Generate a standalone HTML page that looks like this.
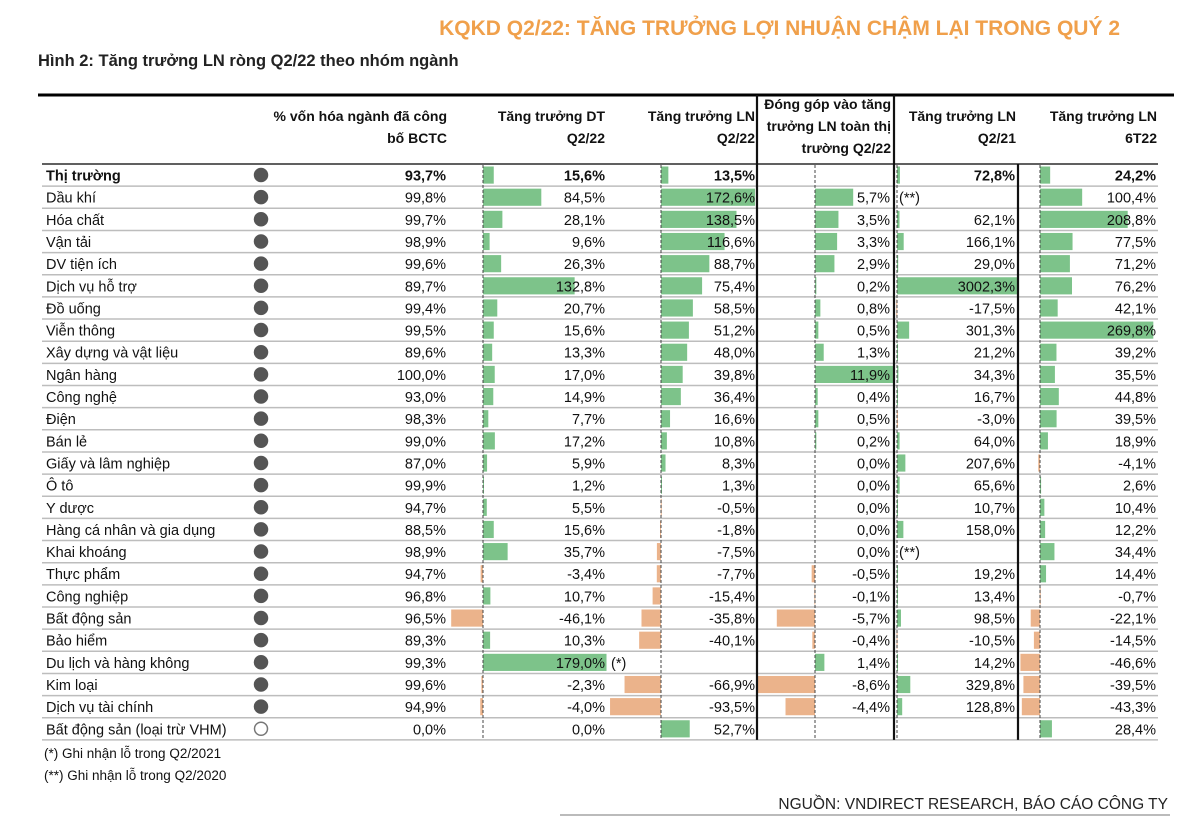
<!DOCTYPE html>
<html><head><meta charset="utf-8">
<style>
body{margin:0;background:#fff;width:1200px;height:829px;overflow:hidden;font-family:"Liberation Sans",Arial,sans-serif;}
svg text{font-family:"Liberation Sans",Arial,sans-serif;}
</style></head>
<body>
<svg id="chart" width="1200" height="829" xmlns="http://www.w3.org/2000/svg">
<text x="1120" y="35" text-anchor="end" font-size="21" font-weight="bold" fill="#f0a04b">KQKD Q2/22:  TĂNG TRƯỞNG LỢI NHUẬN CHẬM LẠI TRONG QUÝ 2</text>
<text x="38" y="66" font-size="16.5" font-weight="bold" fill="#222">Hình 2: Tăng trưởng LN ròng Q2/22 theo nhóm ngành</text>
<line x1="38" y1="95" x2="1174" y2="95" stroke="#000" stroke-width="3"/>
<line x1="42" y1="164" x2="1158" y2="164" stroke="#000" stroke-width="1.2"/>
<g id="hdr" font-size="14" font-weight="bold" fill="#111" text-anchor="end">
<text x="447" y="121">% vốn hóa ngành đã công</text>
<text x="447" y="143">bố BCTC</text>
<text x="605" y="121">Tăng trưởng DT</text>
<text x="605" y="143">Q2/22</text>
<text x="755" y="121">Tăng trưởng LN</text>
<text x="755" y="143">Q2/22</text>
<text x="891" y="109">Đóng góp vào tăng</text>
<text x="891" y="131">trưởng LN toàn thị</text>
<text x="891" y="153">trường Q2/22</text>
<text x="1016" y="121">Tăng trưởng LN</text>
<text x="1016" y="143">Q2/21</text>
<text x="1157" y="121">Tăng trưởng LN</text>
<text x="1157" y="143">6T22</text>
</g>
<g id="body"></g>
<text x="44" y="758" font-size="13.5" fill="#111">(*) Ghi nhận lỗ trong Q2/2021</text>
<text x="44" y="780" font-size="13.5" fill="#111">(**) Ghi nhận lỗ trong Q2/2020</text>
<text x="1168" y="809" text-anchor="end" font-size="15.5" fill="#222">NGUỒN: VNDIRECT RESEARCH, BÁO CÁO CÔNG TY</text>
<line x1="560" y1="815" x2="1170" y2="815" stroke="#777" stroke-width="1"/>
</svg>
<script>
const sectors=["Thị trường","Dầu khí","Hóa chất","Vận tải","DV tiện ích","Dịch vụ hỗ trợ","Đồ uống","Viễn thông","Xây dựng và vật liệu","Ngân hàng","Công nghệ","Điện","Bán lẻ","Giấy và lâm nghiệp","Ô tô","Y dược","Hàng cá nhân và gia dụng","Khai khoáng","Thực phẩm","Công nghiệp","Bất động sản","Bảo hiểm","Du lịch và hàng không","Kim loại","Dịch vụ tài chính","Bất động sản (loại trừ VHM)"];
const capPct=[93.7,99.8,99.7,98.9,99.6,89.7,99.4,99.5,89.6,100.0,93.0,98.3,99.0,87.0,99.9,94.7,88.5,98.9,94.7,96.8,96.5,89.3,99.3,99.6,94.9,0.0];
const revQ222=[15.6,84.5,28.1,9.6,26.3,132.8,20.7,15.6,13.3,17.0,14.9,7.7,17.2,5.9,1.2,5.5,15.6,35.7,-3.4,10.7,-46.1,10.3,179.0,-2.3,-4.0,0.0];
const profQ222=[13.5,172.6,138.5,116.6,88.7,75.4,58.5,51.2,48.0,39.8,36.4,16.6,10.8,8.3,1.3,-0.5,-1.8,-7.5,-7.7,-15.4,-35.8,-40.1,null,-66.9,-93.5,52.7];
const contrib=[null,5.7,3.5,3.3,2.9,0.2,0.8,0.5,1.3,11.9,0.4,0.5,0.2,0.0,0.0,0.0,0.0,0.0,-0.5,-0.1,-5.7,-0.4,1.4,-8.6,-4.4,null];
const profQ221=[72.8,null,62.1,166.1,29.0,3002.3,-17.5,301.3,21.2,34.3,16.7,-3.0,64.0,207.6,65.6,10.7,158.0,null,19.2,13.4,98.5,-10.5,14.2,329.8,128.8,null];
const prof6T22=[24.2,100.4,208.8,77.5,71.2,76.2,42.1,269.8,39.2,35.5,44.8,39.5,18.9,-4.1,2.6,10.4,12.2,34.4,14.4,-0.7,-22.1,-14.5,-46.6,-39.5,-43.3,28.4];

const NS="http://www.w3.org/2000/svg";
const body=document.getElementById('body');
const TOP=164, RH=22.15;
const rowY=i=>TOP+i*RH;
const cols=[
 {data:revQ222,axis:483,scale:0.69,tx:605,name:'revenue-q222'},
 {data:profQ222,axis:661,scale:0.545,tx:755,name:'profit-q222'},
 {data:contrib,axis:815,scale:6.7,tx:890,name:'contrib-q222'},
 {data:profQ221,axis:897,scale:0.0403,tx:1015,name:'profit-q221'},
 {data:prof6T22,axis:1040,scale:0.42,tx:1156,name:'profit-6t22'}
];
function mk(tag,attrs){const e=document.createElementNS(NS,tag);for(const k in attrs)e.setAttribute(k,attrs[k]);body.appendChild(e);return e;}
const fmt=v=>v.toFixed(1).replace('.',',')+'%';
const N=sectors.length;
for(let i=1;i<=N;i++){
 const l=mk('line',{x1:42,x2:1158,y1:rowY(i),y2:rowY(i),stroke:'#bdbdbd','stroke-width':1.5});
 
 
}
cols.forEach(c=>{
 c.data.forEach((v,i)=>{
  if(v===null)return;
  const w=Math.abs(v)*c.scale;
  if(v===0)return;
  const y=rowY(i)+2.5;
  const r=mk('rect',{x:v>=0?c.axis:c.axis-w,y:y,width:Math.max(w,1),height:RH-5,fill:v>=0?'#7dc38a':'#ebb38b'});
  
  
 });
 const a=mk('line',{x1:c.axis,x2:c.axis,y1:TOP+1,y2:rowY(N),stroke:'#444','stroke-width':1,'stroke-dasharray':'3,2'});
 
 
});
[[757,95,rowY(N)],[894,95,rowY(N)],[1018,164,rowY(N)]].forEach(s=>{
 const l=mk('line',{x1:s[0],x2:s[0],y1:s[1],y2:s[2],stroke:'#111','stroke-width':2.2});
 
 
});
for(let i=0;i<N;i++){
 const y=rowY(i)+16.5;
 const bold=i===0?'bold':'normal';
 const t=mk('text',{x:46,y:y,'font-size':14.5,'font-weight':bold,fill:'#111'});
 t.textContent=sectors[i];
 
 
 const c=mk('circle',{cx:261,cy:rowY(i)+11,r:6.5,fill:i===N-1?'#fff':'#555',stroke:i===N-1?'#777':'#555','stroke-width':1.5});
 
 
 const cp=mk('text',{x:446,y:y,'font-size':14.5,'font-weight':bold,'text-anchor':'end',fill:'#111'});
 cp.textContent=fmt(capPct[i]);
 
 
 cols.forEach(col=>{
  const v=col.data[i];
  if(v===null)return;
  const tv=mk('text',{x:col.tx,y:y,'font-size':14.5,'font-weight':bold,'text-anchor':'end',fill:'#111'});
  tv.textContent=fmt(v);
  
  
 });
}
[[899,1],[899,17]].forEach(p=>{
 const t=mk('text',{x:p[0],y:rowY(p[1])+16.5,'font-size':14.5,fill:'#111'});
 t.textContent='(**)';
 
 
});
const st=mk('text',{x:611,y:rowY(22)+16.5,'font-size':14.5,fill:'#111'});
st.textContent='(*)';


</script>
</body></html>
